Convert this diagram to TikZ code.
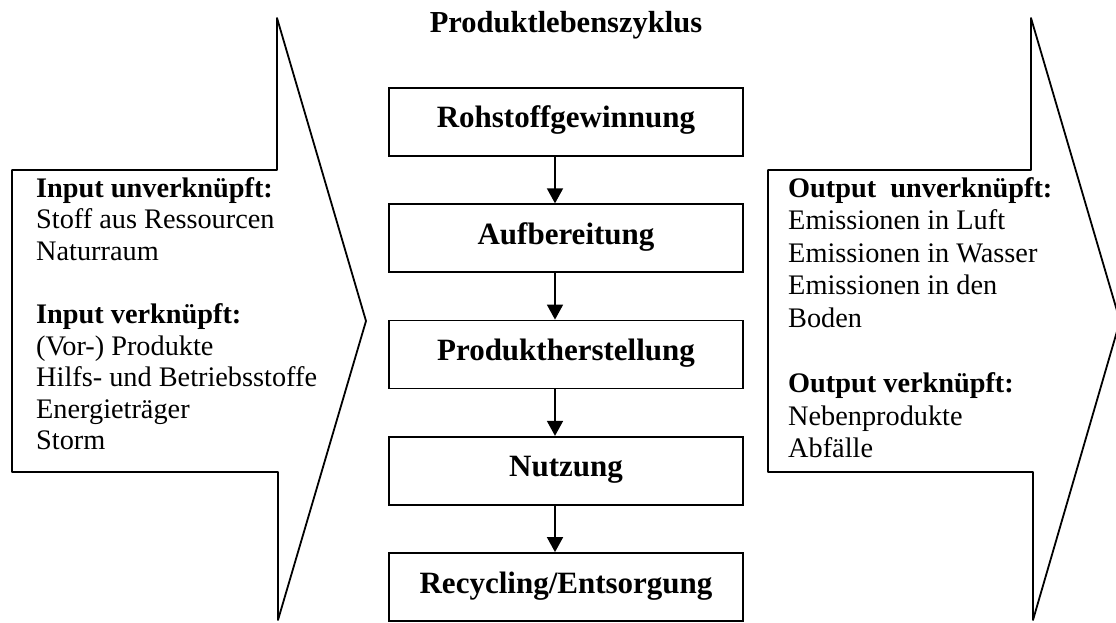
\documentclass[tikz,border=0pt]{standalone}
\usepackage{fontspec}
\setmainfont{Liberation Serif}
\usetikzlibrary{arrows.meta}
\begin{document}
\begin{tikzpicture}[x=1pt,y=-1pt,
  outline/.style={draw=black, line width=1.8pt, line join=round, fill=white},
  stage/.style={draw=black, line width=1.8pt, minimum width=354pt, minimum height=68pt,
    inner sep=0pt, font=\fontsize{31}{36}\selectfont\bfseries,
    text height=20pt, text depth=8pt},
  flow/.style={line width=1.8pt, -{Triangle[width=16pt,length=15pt]}},
  titletext/.style={anchor=base, inner sep=0pt, font=\fontsize{30.5}{34}\selectfont\bfseries},
  lefttext/.style={anchor=base west, align=left, inner sep=0pt,
    font=\fontsize{28.3}{31.6}\selectfont},
  righttext/.style={anchor=base west, align=left, inner sep=0pt,
    font=\fontsize{28.3}{32.6}\selectfont}
]
\path[use as bounding box, clip] (0,0) rectangle (1116,623);

% input arrow on the left
\draw[outline] (12,170) -- (277,170) -- (277,18) -- (366,321) -- (278,620)
  -- (278,472) -- (12,472) -- cycle;
% output arrow on the right
\draw[outline] (768,170) -- (1031,170) -- (1031,18) -- (1120,321) -- (1033,620)
  -- (1033,472) -- (768,472) -- cycle;

% heading
\node[titletext] (title) at (566,33) {Produktlebenszyklus};

% life cycle stages
\node[stage] (s1) at (566,122) {Rohstoffgewinnung};
\node[stage] (s2) at (566,238.25) {Aufbereitung};
\node[stage] (s3) at (566,354.5) {Produktherstellung};
\node[stage] (s4) at (566,470.75) {Nutzung};
\node[stage] (s5) at (566,587) {Recycling/Entsorgung};

\draw[flow] ([xshift=-11pt]s1.south) -- ([xshift=-11pt]s2.north);
\draw[flow] ([xshift=-11pt]s2.south) -- ([xshift=-11pt]s3.north);
\draw[flow] ([xshift=-11pt]s3.south) -- ([xshift=-11pt]s4.north);
\draw[flow] ([xshift=-11pt]s4.south) -- ([xshift=-11pt]s5.north);

% input list (anchored at the baseline of its last line)
\node[lefttext] (inputs) at (36,449.8) {\textbf{Input unverknüpft:}\\
  Stoff aus Ressourcen\\
  Naturraum\\[31.6pt]
  \textbf{Input verknüpft:}\\
  (Vor-) Produkte\\
  Hilfs- und Betriebsstoffe\\
  Energieträger\\
  Storm};

% output list (anchored at the baseline of its last line)
\node[righttext] (outputs) at (788,457.8) {\textbf{Output\ \ unverknüpft:}\\
  Emissionen in Luft\\
  Emissionen in Wasser\\
  Emissionen in den\\
  Boden\\[32.6pt]
  \textbf{Output verknüpft:}\\
  Nebenprodukte\\
  Abfälle};
\end{tikzpicture}
\end{document}
